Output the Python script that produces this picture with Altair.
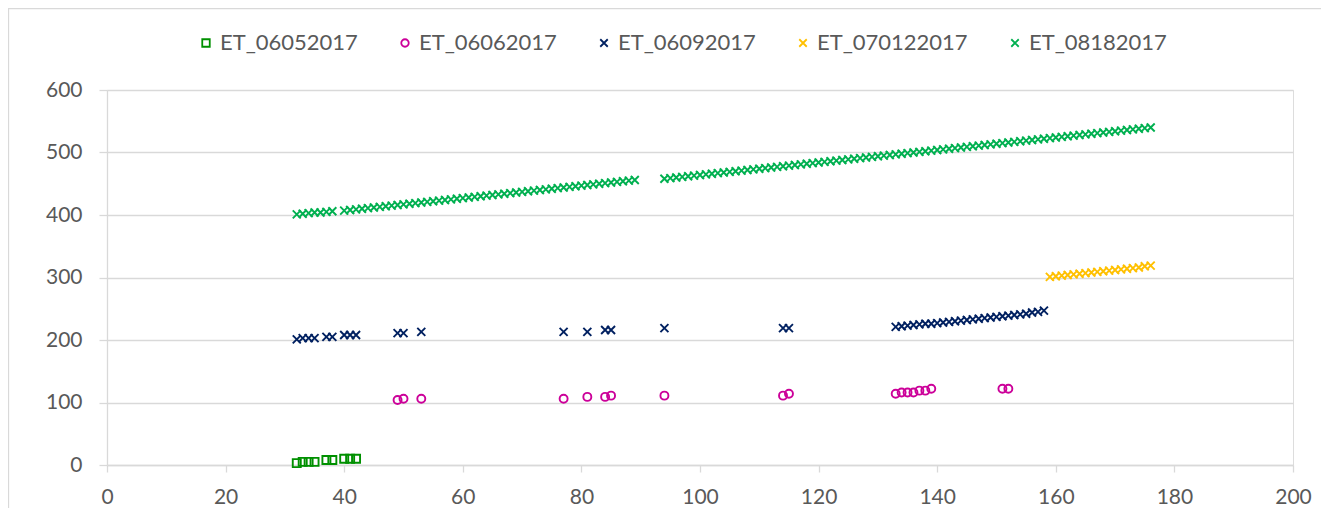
import altair as alt
import pandas as pd

series_names = ["ET_06052017", "ET_06062017", "ET_06092017", "ET_070122017", "ET_08182017"]
series_colors = ["#009000", "#CC0099", "#002060", "#FFC000", "#00B050"]
x_ticks = [0, 20, 40, 60, 80, 100, 120, 140, 160, 180, 200]
y_ticks = [0, 100, 200, 300, 400, 500, 600]

# ET_06052017
sq_x = [32, 33, 34, 35, 37, 38, 40, 41, 42]
sq_y = [3, 5, 5, 5, 8, 8, 10, 10, 10]

# ET_06062017
ci_x = [49, 50, 53, 77, 81, 84, 85, 94, 114, 115, 133, 134, 135, 136, 137, 138, 139, 151, 152]
ci_y = [104, 106, 106, 106, 109, 109, 111, 111, 111, 114, 114, 116, 116, 116, 119, 119, 122, 122, 122]

# ET_06092017
nv_x = [32, 33, 34, 35, 37, 38, 40, 41, 42, 49, 50, 53, 77, 81, 84, 85, 94, 114, 115,
        133, 134, 135, 136, 137, 138, 139, 140, 141, 142, 143, 144, 145, 146, 147, 148,
        149, 150, 151, 152, 153, 154, 155, 156, 157, 158]
nv_y = [201, 203, 203, 203, 205, 205, 208, 208, 208, 211, 211, 213, 213, 213, 216, 216, 219, 219, 219,
        221, 222, 223, 224, 225, 226, 226, 227, 228, 229, 230, 231, 232, 233, 234, 235,
        236, 237, 238, 239, 240, 241, 242, 244, 245, 247]

# ET_070122017
ye_x = [159, 160, 161, 162, 163, 164, 165, 166, 167, 168, 169, 170, 171, 172, 173, 174, 175, 176]
ye_y = [301, 302, 303, 304, 305, 306, 307, 308, 309, 310, 311, 312, 313, 314, 315, 316, 318, 319]

# ET_08182017
gr_x = [32, 33, 34, 35, 36, 37, 38,
        40, 41, 42, 43, 44, 45, 46, 47, 48, 49, 50, 51, 52, 53, 54, 55, 56, 57, 58, 59,
        60, 61, 62, 63, 64, 65, 66, 67, 68, 69, 70, 71, 72, 73, 74, 75, 76, 77, 78, 79,
        80, 81, 82, 83, 84, 85, 86, 87, 88, 89,
        94, 95, 96, 97, 98, 99, 100, 101, 102, 103, 104, 105, 106, 107, 108, 109,
        110, 111, 112, 113, 114, 115, 116, 117, 118, 119, 120, 121, 122, 123, 124, 125,
        126, 127, 128, 129, 130, 131, 132, 133, 134, 135, 136, 137, 138, 139, 140, 141,
        142, 143, 144, 145, 146, 147, 148, 149, 150, 151, 152, 153, 154, 155, 156, 157,
        158, 159, 160, 161, 162, 163, 164, 165, 166, 167, 168, 169, 170, 171, 172, 173,
        174, 175, 176]
gr_y = [401, 402, 403, 404, 404, 405, 406,
        407, 408, 409, 410, 411, 412, 413, 414, 415, 416, 417, 418, 419, 420, 421, 422, 423, 424, 425, 426,
        427, 428, 429, 430, 431, 432, 433, 434, 435, 436, 437, 438, 439, 440, 441, 442, 443, 444, 445, 446,
        447, 448, 449, 450, 451, 452, 453, 454, 455, 456,
        458, 459, 460, 461, 462, 463, 464, 465, 466, 467, 468, 469, 470, 471, 472, 473,
        474, 475, 476, 477, 478, 479, 480, 481, 482, 483, 484, 485, 486, 487, 488, 489,
        490, 491, 492, 493, 494, 495, 496, 497, 498, 499, 500, 501, 502, 503, 504, 505,
        506, 507, 508, 509, 510, 511, 512, 513, 514, 515, 516, 517, 518, 519, 520, 521,
        522, 523, 524, 525, 526, 527, 528, 529, 530, 531, 532, 533, 534, 535, 536, 537,
        538, 539, 540]

frames = []
for name, xs, ys in zip(series_names, [sq_x, ci_x, nv_x, ye_x, gr_x], [sq_y, ci_y, nv_y, ye_y, gr_y]):
    frames.append(pd.DataFrame({"x": xs, "y": ys, "series": name}))
df = pd.concat(frames, ignore_index=True)

X_PATH = "M-1,-1L1,1M-1,1L1,-1"
shapes = ["square", "circle", X_PATH, X_PATH, X_PATH]

W, H = 1186, 375
PAD = {"left": 99, "top": 82, "right": 28, "bottom": 43}
FONT = "Lato"
GRID = "#D9D9D9"

points = alt.Chart(df).mark_point(filled=False, strokeWidth=1.9, size=64, opacity=1).encode(
    x=alt.X("x:Q", scale=alt.Scale(domain=[0, 200], nice=False, zero=False),
            axis=alt.Axis(values=x_ticks, title=None, grid=False, domain=True, domainColor=GRID,
                          domainWidth=1.3, ticks=True, tickColor=GRID, tickSize=7, tickWidth=1.3,
                          labelFont=FONT, labelFontSize=21, labelColor="#595959", labelPadding=14,
                          labelFlush=False)),
    y=alt.Y("y:Q", scale=alt.Scale(domain=[0, 600], nice=False),
            axis=alt.Axis(values=y_ticks, title=None, grid=True, gridColor=GRID, gridWidth=1.3,
                          domain=True, domainColor=GRID, domainWidth=1.3, ticks=True, tickColor=GRID,
                          tickSize=8, tickWidth=1.3, labelFont=FONT, labelFontSize=21,
                          labelColor="#595959", labelPadding=17)),
    color=alt.Color("series:N", scale=alt.Scale(domain=series_names, range=series_colors),
                    legend=alt.Legend(title=None, orient="none", legendX=88, legendY=-58,
                                      direction="horizontal", columns=5, columnPadding=36,
                                      labelFont=FONT, labelFontSize=22, labelColor="#595959",
                                      labelOffset=3, symbolSize=56, symbolStrokeWidth=1.8,
                                      padding=0)),
    shape=alt.Shape("series:N", scale=alt.Scale(domain=series_names, range=shapes), legend=None),
)

border_df = pd.DataFrame({"a": [0]})
top_border = alt.Chart(border_df).mark_rule(color=GRID, strokeWidth=1.3).encode(
    x=alt.value(-99), x2=alt.value(W + 28), y=alt.value(-81.5))
left_border = alt.Chart(border_df).mark_rule(color=GRID, strokeWidth=1.3).encode(
    x=alt.value(-98.5), y=alt.value(-82), y2=alt.value(H + 43))

chart = alt.layer(top_border, left_border, points).properties(
    width=W, height=H,
    autosize=alt.AutoSizeParams(type="none"),
    padding=PAD,
).configure_view(stroke=None).configure(background="white")

chart.save("out.html", embed_options={"renderer": "svg", "actions": False})
